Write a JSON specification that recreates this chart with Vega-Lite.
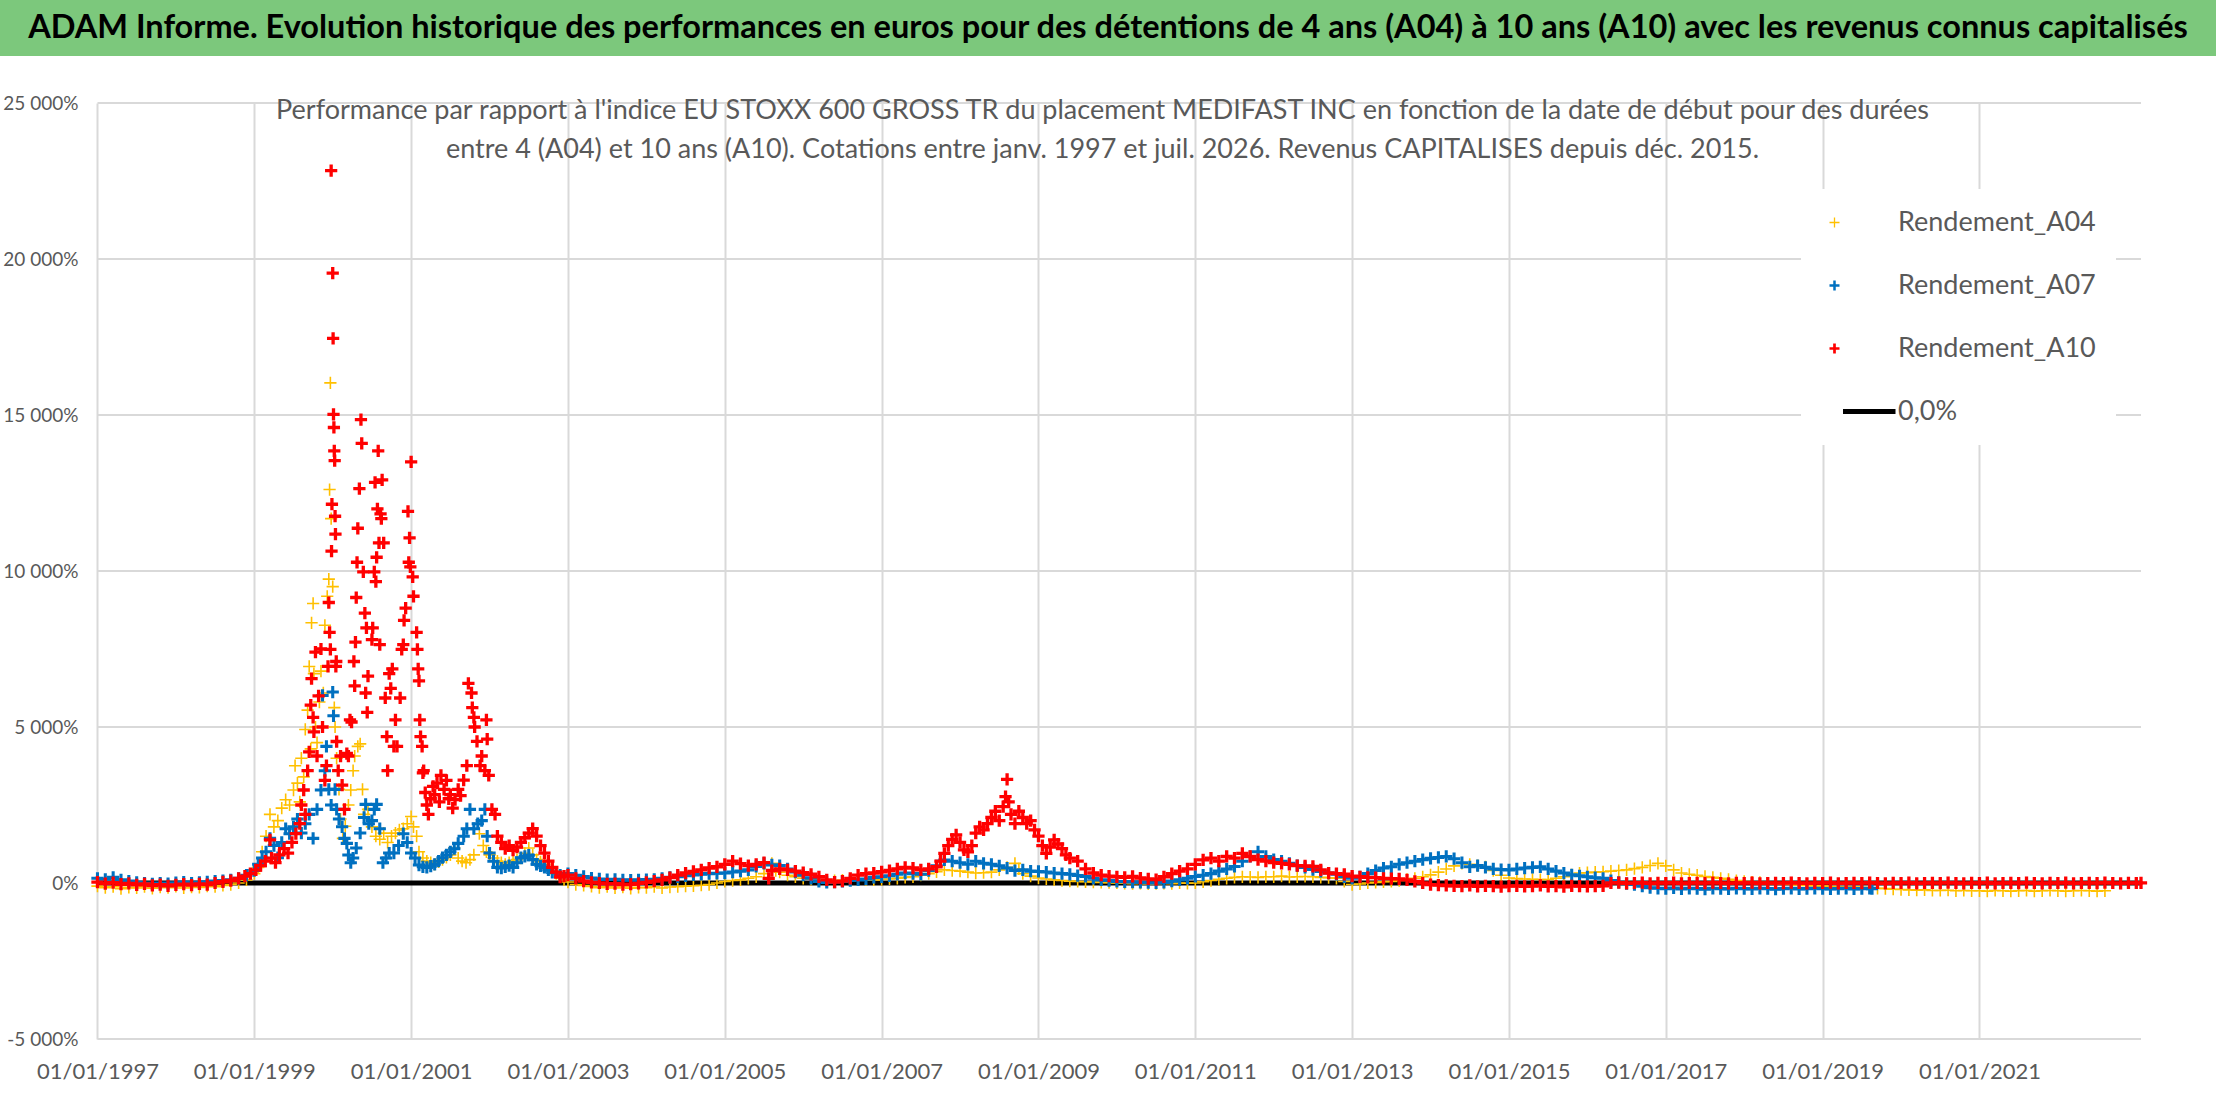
{
  "$schema": "https://vega.github.io/schema/vega-lite/v6.json",
  "padding": 0,
  "background": "white",
  "config": {
    "font": "Lato",
    "view": {"stroke": null}
  },
  "datasets": {
    "grid": [
      {"g": -5000, "x1": 1997, "x2": 2023.06}, {"g": 0, "x1": 1997, "x2": 2023.06}, {"g": 5000, "x1": 1997, "x2": 2023.06},
      {"g": 10000, "x1": 1997, "x2": 2023.06}, {"g": 15000, "x1": 1997, "x2": 2023.06}, {"g": 20000, "x1": 1997, "x2": 2023.06},
      {"g": 25000, "x1": 1997, "x2": 2023.06}
    ],
    "zero": [{"t": 1997, "v": 0}, {"t": 2023.06, "v": 0}],
    "a04": [
      {"t":1997,"v":-100},{"t":1997.1,"v":-150},{"t":1997.2,"v":-120},{"t":1997.3,"v":-180},{"t":1997.4,"v":-140},{"t":1997.5,"v":-160},{"t":1997.6,"v":-120},{"t":1997.7,"v":-170},{"t":1997.8,"v":-130},{"t":1997.9,"v":-150},{"t":1998,"v":-110},{"t":1998.1,"v":-160},{"t":1998.2,"v":-130},{"t":1998.3,"v":-140},{"t":1998.4,"v":-100},{"t":1998.5,"v":-120},{"t":1998.6,"v":-80},{"t":1998.7,"v":-50},{"t":1998.8,"v":0},{"t":1998.9,"v":100},
      {"t":1999,"v":300},{"t":1999.05,"v":500},{"t":1999.1,"v":1000},{"t":1999.15,"v":1500},{"t":1999.2,"v":2200},{"t":1999.25,"v":1800},{"t":1999.3,"v":2000},{"t":1999.35,"v":2400},{"t":1999.4,"v":2670},{"t":1999.45,"v":2500},{"t":1999.5,"v":2980},{"t":1999.52,"v":3760},{"t":1999.55,"v":3200},{"t":1999.58,"v":2600},{"t":1999.6,"v":4000},{"t":1999.63,"v":3400},{"t":1999.65,"v":4920},{"t":1999.68,"v":5540},{"t":1999.7,"v":6940},{"t":1999.72,"v":4300},{"t":1999.73,"v":8340},{"t":1999.75,"v":8960},{"t":1999.76,"v":6710},{"t":1999.78,"v":5000},{"t":1999.8,"v":4500},{"t":1999.83,"v":5800},{"t":1999.85,"v":6790},{"t":1999.88,"v":6090},{"t":1999.9,"v":8260},{"t":1999.93,"v":9190},{"t":1999.95,"v":9740},{"t":1999.96,"v":12610},{"t":1999.97,"v":16030},{"t":1999.98,"v":11680},
      {"t":2000,"v":9500},{"t":2000.02,"v":5620},{"t":2000.03,"v":5000},{"t":2000.05,"v":4000},{"t":2000.08,"v":3000},{"t":2000.1,"v":2050},{"t":2000.13,"v":1430},{"t":2000.16,"v":1820},{"t":2000.2,"v":2500},{"t":2000.23,"v":2980},{"t":2000.26,"v":3600},{"t":2000.28,"v":4070},{"t":2000.32,"v":4380},{"t":2000.35,"v":4460},{"t":2000.38,"v":3000},{"t":2000.4,"v":2200},{"t":2000.45,"v":2360},{"t":2000.5,"v":1800},{"t":2000.55,"v":1500},{"t":2000.6,"v":1400},{"t":2000.65,"v":1600},{"t":2000.7,"v":1300},{"t":2000.75,"v":1500},{"t":2000.8,"v":1600},{"t":2000.85,"v":1700},{"t":2000.9,"v":1740},{"t":2000.95,"v":1900},
      {"t":2001,"v":2130},{"t":2001.03,"v":1800},{"t":2001.07,"v":1500},{"t":2001.1,"v":1000},{"t":2001.15,"v":800},{"t":2001.2,"v":700},{"t":2001.25,"v":650},{"t":2001.3,"v":600},{"t":2001.35,"v":680},{"t":2001.4,"v":750},{"t":2001.45,"v":820},{"t":2001.5,"v":900},{"t":2001.55,"v":1120},{"t":2001.6,"v":800},{"t":2001.65,"v":700},{"t":2001.7,"v":650},{"t":2001.75,"v":750},{"t":2001.8,"v":900},{"t":2001.87,"v":1580},{"t":2001.92,"v":1200},{"t":2001.96,"v":1000},
      {"t":2002,"v":900},{"t":2002.05,"v":800},{"t":2002.1,"v":700},{"t":2002.15,"v":650},{"t":2002.2,"v":600},{"t":2002.25,"v":650},{"t":2002.3,"v":700},{"t":2002.35,"v":750},{"t":2002.4,"v":800},{"t":2002.45,"v":950},{"t":2002.5,"v":1120},{"t":2002.55,"v":900},{"t":2002.6,"v":750},{"t":2002.65,"v":680},{"t":2002.7,"v":600},{"t":2002.75,"v":500},{"t":2002.8,"v":400},{"t":2002.85,"v":300},{"t":2002.9,"v":200},{"t":2002.95,"v":100},
      {"t":2003,"v":30},{"t":2003.1,"v":-50},{"t":2003.2,"v":-80},{"t":2003.3,"v":-110},{"t":2003.4,"v":-150},{"t":2003.5,"v":-120},{"t":2003.6,"v":-160},{"t":2003.7,"v":-130},{"t":2003.8,"v":-170},{"t":2003.9,"v":-140},{"t":2004,"v":-150},{"t":2004.1,"v":-120},{"t":2004.2,"v":-160},{"t":2004.3,"v":-130},{"t":2004.4,"v":-120},{"t":2004.5,"v":-100},{"t":2004.6,"v":-90},{"t":2004.7,"v":-70},{"t":2004.8,"v":-50},{"t":2004.9,"v":0},
      {"t":2005,"v":50},{"t":2005.1,"v":80},{"t":2005.2,"v":100},{"t":2005.3,"v":150},{"t":2005.4,"v":200},{"t":2005.5,"v":300},{"t":2005.6,"v":630},{"t":2005.65,"v":400},{"t":2005.7,"v":350},{"t":2005.8,"v":250},{"t":2005.9,"v":200},{"t":2006,"v":150},{"t":2006.1,"v":120},{"t":2006.2,"v":100},{"t":2006.3,"v":90},{"t":2006.4,"v":80},{"t":2006.5,"v":90},{"t":2006.6,"v":100},{"t":2006.7,"v":110},{"t":2006.8,"v":110},{"t":2006.9,"v":100},
      {"t":2007,"v":110},{"t":2007.1,"v":130},{"t":2007.2,"v":150},{"t":2007.3,"v":180},{"t":2007.4,"v":200},{"t":2007.5,"v":250},{"t":2007.6,"v":300},{"t":2007.7,"v":360},{"t":2007.8,"v":420},{"t":2007.9,"v":400},{"t":2008,"v":380},{"t":2008.1,"v":350},{"t":2008.2,"v":320},{"t":2008.3,"v":330},{"t":2008.4,"v":350},{"t":2008.5,"v":420},{"t":2008.6,"v":500},{"t":2008.7,"v":630},{"t":2008.75,"v":450},{"t":2008.8,"v":300},{"t":2008.9,"v":220},
      {"t":2009,"v":160},{"t":2009.1,"v":130},{"t":2009.2,"v":100},{"t":2009.3,"v":80},{"t":2009.4,"v":60},{"t":2009.5,"v":50},{"t":2009.6,"v":40},{"t":2009.7,"v":30},{"t":2009.8,"v":20},{"t":2009.9,"v":10},{"t":2010,"v":0},{"t":2010.1,"v":-10},{"t":2010.2,"v":-20},{"t":2010.3,"v":-10},{"t":2010.4,"v":-30},{"t":2010.5,"v":-20},{"t":2010.6,"v":-10},{"t":2010.7,"v":-20},{"t":2010.8,"v":0},{"t":2010.9,"v":-10},
      {"t":2011,"v":0},{"t":2011.1,"v":40},{"t":2011.2,"v":80},{"t":2011.3,"v":120},{"t":2011.4,"v":150},{"t":2011.5,"v":180},{"t":2011.6,"v":200},{"t":2011.7,"v":190},{"t":2011.8,"v":180},{"t":2011.9,"v":200},{"t":2012,"v":200},{"t":2012.1,"v":220},{"t":2012.2,"v":190},{"t":2012.3,"v":200},{"t":2012.4,"v":210},{"t":2012.5,"v":200},{"t":2012.6,"v":180},{"t":2012.7,"v":170},{"t":2012.8,"v":150},{"t":2012.9,"v":50},
      {"t":2013,"v":-50},{"t":2013.1,"v":-30},{"t":2013.2,"v":0},{"t":2013.3,"v":20},{"t":2013.4,"v":40},{"t":2013.5,"v":50},{"t":2013.6,"v":80},{"t":2013.7,"v":120},{"t":2013.8,"v":150},{"t":2013.9,"v":200},{"t":2014,"v":260},{"t":2014.1,"v":350},{"t":2014.2,"v":450},{"t":2014.3,"v":550},{"t":2014.4,"v":630},{"t":2014.5,"v":600},{"t":2014.6,"v":560},{"t":2014.7,"v":520},{"t":2014.8,"v":400},{"t":2014.9,"v":250},
      {"t":2015,"v":160},{"t":2015.1,"v":140},{"t":2015.2,"v":130},{"t":2015.3,"v":120},{"t":2015.4,"v":110},{"t":2015.5,"v":110},{"t":2015.6,"v":150},{"t":2015.7,"v":200},{"t":2015.8,"v":260},{"t":2015.9,"v":320},{"t":2016,"v":330},{"t":2016.1,"v":350},{"t":2016.2,"v":360},{"t":2016.3,"v":380},{"t":2016.4,"v":400},{"t":2016.5,"v":420},{"t":2016.6,"v":460},{"t":2016.7,"v":500},{"t":2016.8,"v":560},{"t":2016.9,"v":630},
      {"t":2017,"v":550},{"t":2017.1,"v":420},{"t":2017.2,"v":320},{"t":2017.3,"v":280},{"t":2017.4,"v":250},{"t":2017.5,"v":210},{"t":2017.6,"v":180},{"t":2017.7,"v":150},{"t":2017.8,"v":120},{"t":2017.9,"v":80},{"t":2018,"v":50},{"t":2018.1,"v":30},{"t":2018.2,"v":20},{"t":2018.3,"v":0},{"t":2018.4,"v":-20},{"t":2018.5,"v":-30},{"t":2018.6,"v":-50},{"t":2018.7,"v":-60},{"t":2018.8,"v":-80},{"t":2018.9,"v":-90},
      {"t":2019,"v":-100},{"t":2019.1,"v":-110},{"t":2019.2,"v":-120},{"t":2019.3,"v":-120},{"t":2019.4,"v":-130},{"t":2019.5,"v":-140},{"t":2019.6,"v":-150},{"t":2019.7,"v":-170},{"t":2019.8,"v":-180},{"t":2019.9,"v":-200},{"t":2020,"v":-210},{"t":2020.1,"v":-220},{"t":2020.2,"v":-230},{"t":2020.3,"v":-220},{"t":2020.4,"v":-240},{"t":2020.5,"v":-240},{"t":2020.6,"v":-230},{"t":2020.7,"v":-250},{"t":2020.8,"v":-240},{"t":2020.9,"v":-250},
      {"t":2021,"v":-250},{"t":2021.1,"v":-260},{"t":2021.2,"v":-240},{"t":2021.3,"v":-250},{"t":2021.4,"v":-260},{"t":2021.5,"v":-250},{"t":2021.6,"v":-240},{"t":2021.7,"v":-260},{"t":2021.8,"v":-250},{"t":2021.9,"v":-240},{"t":2022,"v":-250},{"t":2022.1,"v":-260},{"t":2022.2,"v":-250},{"t":2022.3,"v":-240},{"t":2022.4,"v":-250},{"t":2022.5,"v":-260},{"t":2022.6,"v":-250}
    ],
    "a07": [
      {"t":1997,"v":150},{"t":1997.1,"v":120},{"t":1997.2,"v":180},{"t":1997.3,"v":100},{"t":1997.4,"v":60},{"t":1997.5,"v":20},{"t":1997.6,"v":0},{"t":1997.7,"v":-30},{"t":1997.8,"v":0},{"t":1997.9,"v":-20},{"t":1998,"v":10},{"t":1998.1,"v":30},{"t":1998.2,"v":0},{"t":1998.3,"v":20},{"t":1998.4,"v":40},{"t":1998.5,"v":60},{"t":1998.6,"v":80},{"t":1998.7,"v":100},{"t":1998.8,"v":150},{"t":1998.9,"v":250},
      {"t":1999,"v":400},{"t":1999.05,"v":600},{"t":1999.1,"v":800},{"t":1999.15,"v":1000},{"t":1999.2,"v":1430},{"t":1999.25,"v":1200},{"t":1999.3,"v":810},{"t":1999.35,"v":1300},{"t":1999.4,"v":1740},{"t":1999.45,"v":1580},{"t":1999.5,"v":1800},{"t":1999.55,"v":2050},{"t":1999.6,"v":1600},{"t":1999.65,"v":1900},{"t":1999.7,"v":2200},{"t":1999.75,"v":1430},{"t":1999.8,"v":2360},{"t":1999.85,"v":2980},{"t":1999.87,"v":6010},{"t":1999.9,"v":3600},{"t":1999.92,"v":4380},{"t":1999.95,"v":3000},{"t":1999.98,"v":2500},
      {"t":2000,"v":6120},{"t":2000.01,"v":5360},{"t":2000.03,"v":3000},{"t":2000.05,"v":2360},{"t":2000.08,"v":2050},{"t":2000.12,"v":1800},{"t":2000.15,"v":1430},{"t":2000.18,"v":1270},{"t":2000.2,"v":900},{"t":2000.23,"v":650},{"t":2000.26,"v":800},{"t":2000.3,"v":1120},{"t":2000.35,"v":1600},{"t":2000.4,"v":2100},{"t":2000.42,"v":2520},{"t":2000.46,"v":1900},{"t":2000.5,"v":2000},{"t":2000.53,"v":2360},{"t":2000.56,"v":2520},{"t":2000.6,"v":1740},{"t":2000.64,"v":650},{"t":2000.68,"v":800},{"t":2000.72,"v":960},{"t":2000.78,"v":960},{"t":2000.84,"v":1200},{"t":2000.9,"v":1580},{"t":2000.95,"v":1300},
      {"t":2001,"v":960},{"t":2001.05,"v":800},{"t":2001.1,"v":575},{"t":2001.15,"v":520},{"t":2001.2,"v":500},{"t":2001.25,"v":540},{"t":2001.3,"v":600},{"t":2001.35,"v":700},{"t":2001.4,"v":810},{"t":2001.45,"v":900},{"t":2001.5,"v":1000},{"t":2001.55,"v":1100},{"t":2001.6,"v":1270},{"t":2001.67,"v":1500},{"t":2001.71,"v":1740},{"t":2001.75,"v":2360},{"t":2001.8,"v":1740},{"t":2001.85,"v":1900},{"t":2001.9,"v":2000},{"t":2001.94,"v":2360},{"t":2001.97,"v":1500},
      {"t":2002,"v":960},{"t":2002.05,"v":700},{"t":2002.1,"v":500},{"t":2002.15,"v":480},{"t":2002.2,"v":520},{"t":2002.25,"v":560},{"t":2002.3,"v":500},{"t":2002.35,"v":650},{"t":2002.4,"v":810},{"t":2002.45,"v":850},{"t":2002.5,"v":890},{"t":2002.55,"v":750},{"t":2002.6,"v":600},{"t":2002.65,"v":550},{"t":2002.7,"v":500},{"t":2002.75,"v":420},{"t":2002.8,"v":340},{"t":2002.9,"v":250},
      {"t":2003,"v":300},{"t":2003.1,"v":250},{"t":2003.2,"v":210},{"t":2003.3,"v":160},{"t":2003.4,"v":130},{"t":2003.5,"v":110},{"t":2003.6,"v":120},{"t":2003.7,"v":100},{"t":2003.8,"v":90},{"t":2003.9,"v":100},{"t":2004,"v":110},{"t":2004.1,"v":120},{"t":2004.2,"v":150},{"t":2004.3,"v":180},{"t":2004.4,"v":200},{"t":2004.5,"v":230},{"t":2004.6,"v":260},{"t":2004.7,"v":280},{"t":2004.8,"v":300},{"t":2004.9,"v":310},
      {"t":2005,"v":320},{"t":2005.1,"v":350},{"t":2005.2,"v":380},{"t":2005.3,"v":420},{"t":2005.4,"v":530},{"t":2005.5,"v":630},{"t":2005.6,"v":580},{"t":2005.7,"v":560},{"t":2005.8,"v":450},{"t":2005.9,"v":350},{"t":2006,"v":250},{"t":2006.1,"v":150},{"t":2006.2,"v":50},{"t":2006.3,"v":20},{"t":2006.4,"v":30},{"t":2006.5,"v":50},{"t":2006.6,"v":80},{"t":2006.7,"v":100},{"t":2006.8,"v":130},{"t":2006.9,"v":180},
      {"t":2007,"v":200},{"t":2007.1,"v":230},{"t":2007.2,"v":280},{"t":2007.3,"v":320},{"t":2007.4,"v":300},{"t":2007.5,"v":280},{"t":2007.6,"v":400},{"t":2007.7,"v":550},{"t":2007.8,"v":740},{"t":2007.9,"v":700},{"t":2008,"v":650},{"t":2008.1,"v":600},{"t":2008.2,"v":700},{"t":2008.3,"v":630},{"t":2008.4,"v":600},{"t":2008.5,"v":550},{"t":2008.6,"v":480},{"t":2008.7,"v":400},{"t":2008.8,"v":420},{"t":2008.9,"v":380},
      {"t":2009,"v":370},{"t":2009.1,"v":350},{"t":2009.2,"v":320},{"t":2009.3,"v":300},{"t":2009.4,"v":280},{"t":2009.5,"v":240},{"t":2009.6,"v":210},{"t":2009.7,"v":150},{"t":2009.8,"v":100},{"t":2009.9,"v":80},{"t":2010,"v":50},{"t":2010.1,"v":40},{"t":2010.2,"v":30},{"t":2010.3,"v":20},{"t":2010.4,"v":10},{"t":2010.5,"v":0},{"t":2010.6,"v":20},{"t":2010.7,"v":60},{"t":2010.8,"v":100},{"t":2010.9,"v":150},
      {"t":2011,"v":210},{"t":2011.1,"v":250},{"t":2011.2,"v":300},{"t":2011.3,"v":380},{"t":2011.4,"v":450},{"t":2011.5,"v":530},{"t":2011.6,"v":700},{"t":2011.7,"v":850},{"t":2011.8,"v":1000},{"t":2011.9,"v":850},{"t":2012,"v":750},{"t":2012.1,"v":700},{"t":2012.2,"v":630},{"t":2012.3,"v":560},{"t":2012.4,"v":500},{"t":2012.5,"v":430},{"t":2012.6,"v":370},{"t":2012.7,"v":320},{"t":2012.8,"v":280},{"t":2012.9,"v":200},
      {"t":2013,"v":150},{"t":2013.1,"v":200},{"t":2013.2,"v":300},{"t":2013.3,"v":400},{"t":2013.4,"v":480},{"t":2013.5,"v":520},{"t":2013.6,"v":600},{"t":2013.7,"v":650},{"t":2013.8,"v":700},{"t":2013.9,"v":750},{"t":2014,"v":790},{"t":2014.1,"v":820},{"t":2014.2,"v":850},{"t":2014.3,"v":780},{"t":2014.4,"v":650},{"t":2014.5,"v":520},{"t":2014.6,"v":560},{"t":2014.7,"v":500},{"t":2014.8,"v":450},{"t":2014.9,"v":430},
      {"t":2015,"v":420},{"t":2015.1,"v":450},{"t":2015.2,"v":480},{"t":2015.3,"v":500},{"t":2015.4,"v":520},{"t":2015.5,"v":450},{"t":2015.6,"v":380},{"t":2015.7,"v":320},{"t":2015.8,"v":260},{"t":2015.9,"v":230},{"t":2016,"v":200},{"t":2016.1,"v":170},{"t":2016.2,"v":150},{"t":2016.3,"v":80},{"t":2016.4,"v":20},{"t":2016.5,"v":-20},{"t":2016.6,"v":-50},{"t":2016.7,"v":-100},{"t":2016.8,"v":-150},{"t":2016.9,"v":-170},
      {"t":2017,"v":-180},{"t":2017.1,"v":-160},{"t":2017.2,"v":-190},{"t":2017.3,"v":-170},{"t":2017.4,"v":-180},{"t":2017.5,"v":-200},{"t":2017.6,"v":-170},{"t":2017.7,"v":-180},{"t":2017.8,"v":-190},{"t":2017.9,"v":-170},{"t":2018,"v":-180},{"t":2018.1,"v":-190},{"t":2018.2,"v":-170},{"t":2018.3,"v":-180},{"t":2018.4,"v":-200},{"t":2018.5,"v":-180},{"t":2018.6,"v":-170},{"t":2018.7,"v":-190},{"t":2018.8,"v":-180},{"t":2018.9,"v":-170},
      {"t":2019,"v":-180},{"t":2019.1,"v":-190},{"t":2019.2,"v":-180},{"t":2019.3,"v":-170},{"t":2019.4,"v":-190},{"t":2019.5,"v":-180},{"t":2019.6,"v":-170},{"t":2019.63,"v":-180}
    ],
    "a10": [
      {"t":1997,"v":30},{"t":1997.1,"v":-20},{"t":1997.2,"v":10},{"t":1997.3,"v":-40},{"t":1997.4,"v":-10},{"t":1997.5,"v":-60},{"t":1997.6,"v":-30},{"t":1997.7,"v":-80},{"t":1997.8,"v":-50},{"t":1997.9,"v":-90},{"t":1998,"v":-60},{"t":1998.1,"v":-40},{"t":1998.2,"v":-70},{"t":1998.3,"v":-30},{"t":1998.4,"v":-50},{"t":1998.5,"v":0},{"t":1998.6,"v":40},{"t":1998.7,"v":80},{"t":1998.8,"v":150},{"t":1998.88,"v":220},{"t":1998.95,"v":300},
      {"t":1999.02,"v":420},{"t":1999.08,"v":560},{"t":1999.14,"v":700},{"t":1999.2,"v":1380},{"t":1999.22,"v":800},{"t":1999.27,"v":650},{"t":1999.32,"v":900},{"t":1999.38,"v":1100},{"t":1999.43,"v":960},{"t":1999.48,"v":1300},{"t":1999.53,"v":1580},{"t":1999.58,"v":1900},{"t":1999.6,"v":2500},{"t":1999.63,"v":2980},{"t":1999.65,"v":2200},{"t":1999.68,"v":3600},{"t":1999.7,"v":4200},{"t":1999.72,"v":5700},{"t":1999.73,"v":6550},{"t":1999.75,"v":5310},{"t":1999.76,"v":4845},{"t":1999.78,"v":7400},{"t":1999.8,"v":4070},{"t":1999.82,"v":6000},{"t":1999.85,"v":7500},{"t":1999.87,"v":5000},{"t":1999.9,"v":3290},{"t":1999.92,"v":3760},{"t":1999.94,"v":6940},{"t":1999.95,"v":8990},{"t":1999.96,"v":8030},{"t":1999.97,"v":7485},{"t":1999.98,"v":22830},{"t":1999.985,"v":10640},{"t":1999.99,"v":12140},
      {"t":2000,"v":19550},{"t":2000.005,"v":17455},{"t":2000.01,"v":15018},{"t":2000.015,"v":14600},{"t":2000.02,"v":13850},{"t":2000.025,"v":13540},{"t":2000.03,"v":11755},{"t":2000.035,"v":11180},{"t":2000.04,"v":6940},{"t":2000.045,"v":7100},{"t":2000.05,"v":4535},{"t":2000.07,"v":3600},{"t":2000.1,"v":4070},{"t":2000.12,"v":3140},{"t":2000.15,"v":2360},{"t":2000.18,"v":4150},{"t":2000.2,"v":4070},{"t":2000.22,"v":5230},{"t":2000.24,"v":5160},{"t":2000.27,"v":7100},{"t":2000.28,"v":6320},{"t":2000.29,"v":7720},{"t":2000.3,"v":9150},{"t":2000.31,"v":10280},{"t":2000.32,"v":11370},{"t":2000.34,"v":12640},{"t":2000.36,"v":14850},{"t":2000.37,"v":14090},{"t":2000.39,"v":9970},{"t":2000.41,"v":8650},{"t":2000.42,"v":6090},{"t":2000.43,"v":8180},{"t":2000.44,"v":5470},{"t":2000.45,"v":6630},{"t":2000.5,"v":7800},{"t":2000.51,"v":8180},{"t":2000.53,"v":9970},{"t":2000.54,"v":12840},{"t":2000.55,"v":9660},{"t":2000.56,"v":10440},{"t":2000.57,"v":11990},{"t":2000.58,"v":13850},{"t":2000.59,"v":10900},{"t":2000.6,"v":7640},{"t":2000.61,"v":11830},{"t":2000.62,"v":11680},{"t":2000.63,"v":12920},{"t":2000.65,"v":10900},{"t":2000.67,"v":5930},{"t":2000.69,"v":4690},{"t":2000.7,"v":3600},{"t":2000.72,"v":6710},{"t":2000.74,"v":6240},{"t":2000.76,"v":6860},{"t":2000.78,"v":4380},{"t":2000.8,"v":5230},{"t":2000.82,"v":4380},{"t":2000.86,"v":5930},{"t":2000.88,"v":7490},{"t":2000.9,"v":7640},{"t":2000.91,"v":8420},{"t":2000.93,"v":8810},{"t":2000.96,"v":11910},{"t":2000.97,"v":10280},{"t":2000.98,"v":11060},{"t":2000.99,"v":10130},
      {"t":2001,"v":13500},{"t":2001.02,"v":9810},{"t":2001.03,"v":9190},{"t":2001.07,"v":8030},{"t":2001.08,"v":7490},{"t":2001.09,"v":6860},{"t":2001.1,"v":6480},{"t":2001.11,"v":5230},{"t":2001.12,"v":4690},{"t":2001.14,"v":4380},{"t":2001.15,"v":3530},{"t":2001.16,"v":3600},{"t":2001.18,"v":2900},{"t":2001.2,"v":2500},{"t":2001.22,"v":2200},{"t":2001.25,"v":2700},{"t":2001.28,"v":3100},{"t":2001.3,"v":2830},{"t":2001.33,"v":3200},{"t":2001.36,"v":2600},{"t":2001.38,"v":3450},{"t":2001.42,"v":3000},{"t":2001.45,"v":3290},{"t":2001.48,"v":2700},{"t":2001.5,"v":2830},{"t":2001.53,"v":2400},{"t":2001.56,"v":2670},{"t":2001.6,"v":3000},{"t":2001.63,"v":2800},{"t":2001.67,"v":3300},{"t":2001.71,"v":3760},{"t":2001.73,"v":6400},{"t":2001.77,"v":6090},{"t":2001.78,"v":5620},{"t":2001.8,"v":5310},{"t":2001.81,"v":5000},{"t":2001.84,"v":4540},{"t":2001.88,"v":3760},{"t":2001.9,"v":4070},{"t":2001.94,"v":3600},{"t":2001.96,"v":5230},{"t":2001.97,"v":4610},{"t":2001.99,"v":3450},
      {"t":2002.03,"v":2360},{"t":2002.07,"v":2200},{"t":2002.1,"v":1500},{"t":2002.15,"v":1300},{"t":2002.2,"v":1100},{"t":2002.25,"v":1200},{"t":2002.3,"v":1050},{"t":2002.35,"v":1150},{"t":2002.4,"v":1300},{"t":2002.45,"v":1450},{"t":2002.5,"v":1600},{"t":2002.55,"v":1740},{"t":2002.6,"v":1500},{"t":2002.65,"v":1200},{"t":2002.7,"v":960},{"t":2002.75,"v":700},{"t":2002.8,"v":500},{"t":2002.85,"v":350},{"t":2002.9,"v":190},{"t":2002.95,"v":220},
      {"t":2003,"v":250},{"t":2003.1,"v":150},{"t":2003.2,"v":60},{"t":2003.3,"v":20},{"t":2003.4,"v":0},{"t":2003.5,"v":-30},{"t":2003.6,"v":-20},{"t":2003.7,"v":-50},{"t":2003.8,"v":-40},{"t":2003.9,"v":-10},{"t":2004,"v":20},{"t":2004.1,"v":60},{"t":2004.2,"v":100},{"t":2004.3,"v":170},{"t":2004.4,"v":250},{"t":2004.5,"v":320},{"t":2004.6,"v":370},{"t":2004.7,"v":420},{"t":2004.8,"v":480},{"t":2004.9,"v":520},
      {"t":2005,"v":600},{"t":2005.1,"v":700},{"t":2005.2,"v":620},{"t":2005.3,"v":560},{"t":2005.4,"v":600},{"t":2005.5,"v":650},{"t":2005.56,"v":150},{"t":2005.6,"v":400},{"t":2005.7,"v":450},{"t":2005.8,"v":420},{"t":2005.9,"v":380},{"t":2006,"v":330},{"t":2006.1,"v":280},{"t":2006.2,"v":200},{"t":2006.3,"v":100},{"t":2006.4,"v":30},{"t":2006.5,"v":60},{"t":2006.6,"v":150},{"t":2006.7,"v":250},{"t":2006.8,"v":300},{"t":2006.9,"v":320},
      {"t":2007,"v":360},{"t":2007.1,"v":400},{"t":2007.2,"v":450},{"t":2007.3,"v":500},{"t":2007.4,"v":480},{"t":2007.5,"v":420},{"t":2007.6,"v":450},{"t":2007.7,"v":520},{"t":2007.75,"v":700},{"t":2007.8,"v":950},{"t":2007.85,"v":1200},{"t":2007.9,"v":1400},{"t":2007.95,"v":1540},{"t":2008,"v":1300},{"t":2008.05,"v":1060},{"t":2008.1,"v":1000},{"t":2008.15,"v":1200},{"t":2008.2,"v":1600},{"t":2008.25,"v":1800},{"t":2008.3,"v":1700},{"t":2008.35,"v":1900},{"t":2008.4,"v":2100},{"t":2008.45,"v":2300},{"t":2008.5,"v":2000},{"t":2008.55,"v":2450},{"t":2008.58,"v":2766},{"t":2008.6,"v":3323},{"t":2008.62,"v":2600},{"t":2008.65,"v":2200},{"t":2008.7,"v":1900},{"t":2008.75,"v":2300},{"t":2008.8,"v":2100},{"t":2008.85,"v":1900},{"t":2008.9,"v":2000},{"t":2008.95,"v":1700},
      {"t":2009,"v":1500},{"t":2009.05,"v":1200},{"t":2009.1,"v":950},{"t":2009.15,"v":1150},{"t":2009.2,"v":1380},{"t":2009.25,"v":1250},{"t":2009.3,"v":1100},{"t":2009.35,"v":900},{"t":2009.4,"v":800},{"t":2009.5,"v":700},{"t":2009.6,"v":450},{"t":2009.7,"v":320},{"t":2009.8,"v":250},{"t":2009.9,"v":220},{"t":2010,"v":200},{"t":2010.1,"v":180},{"t":2010.2,"v":210},{"t":2010.3,"v":160},{"t":2010.4,"v":130},{"t":2010.5,"v":110},{"t":2010.6,"v":200},{"t":2010.7,"v":300},{"t":2010.8,"v":380},{"t":2010.9,"v":450},
      {"t":2011,"v":600},{"t":2011.1,"v":740},{"t":2011.2,"v":800},{"t":2011.3,"v":700},{"t":2011.4,"v":850},{"t":2011.5,"v":800},{"t":2011.6,"v":950},{"t":2011.7,"v":850},{"t":2011.8,"v":750},{"t":2011.9,"v":700},{"t":2012,"v":650},{"t":2012.1,"v":630},{"t":2012.2,"v":600},{"t":2012.3,"v":560},{"t":2012.4,"v":550},{"t":2012.5,"v":530},{"t":2012.6,"v":420},{"t":2012.7,"v":320},{"t":2012.8,"v":300},{"t":2012.9,"v":280},
      {"t":2013,"v":220},{"t":2013.1,"v":200},{"t":2013.2,"v":180},{"t":2013.3,"v":170},{"t":2013.4,"v":150},{"t":2013.5,"v":140},{"t":2013.6,"v":130},{"t":2013.7,"v":100},{"t":2013.8,"v":50},{"t":2013.9,"v":0},{"t":2014,"v":-50},{"t":2014.1,"v":-70},{"t":2014.2,"v":-80},{"t":2014.3,"v":-90},{"t":2014.4,"v":-100},{"t":2014.5,"v":-80},{"t":2014.6,"v":-110},{"t":2014.7,"v":-90},{"t":2014.8,"v":-100},{"t":2014.9,"v":-120},
      {"t":2015,"v":-100},{"t":2015.1,"v":-90},{"t":2015.2,"v":-110},{"t":2015.3,"v":-100},{"t":2015.4,"v":-80},{"t":2015.5,"v":-110},{"t":2015.6,"v":-100},{"t":2015.7,"v":-120},{"t":2015.8,"v":-90},{"t":2015.9,"v":-100},{"t":2016,"v":-110},{"t":2016.1,"v":-100},{"t":2016.2,"v":-90},{"t":2016.3,"v":0},{"t":2016.4,"v":10},{"t":2016.5,"v":-10},{"t":2016.6,"v":0},{"t":2016.7,"v":10},{"t":2016.8,"v":-10},{"t":2016.9,"v":5},
      {"t":2017,"v":0},{"t":2017.1,"v":10},{"t":2017.2,"v":-10},{"t":2017.3,"v":0},{"t":2017.4,"v":5},{"t":2017.5,"v":-5},{"t":2017.6,"v":10},{"t":2017.7,"v":0},{"t":2017.8,"v":-10},{"t":2017.9,"v":5},{"t":2018,"v":0},{"t":2018.1,"v":10},{"t":2018.2,"v":-10},{"t":2018.3,"v":0},{"t":2018.4,"v":5},{"t":2018.5,"v":-5},{"t":2018.6,"v":10},{"t":2018.7,"v":0},{"t":2018.8,"v":-10},{"t":2018.9,"v":5},
      {"t":2019,"v":0},{"t":2019.1,"v":10},{"t":2019.2,"v":-10},{"t":2019.3,"v":0},{"t":2019.4,"v":5},{"t":2019.5,"v":-5},{"t":2019.6,"v":10},{"t":2019.7,"v":0},{"t":2019.8,"v":-10},{"t":2019.9,"v":5},{"t":2020,"v":0},{"t":2020.1,"v":10},{"t":2020.2,"v":-10},{"t":2020.3,"v":0},{"t":2020.4,"v":5},{"t":2020.5,"v":-5},{"t":2020.6,"v":10},{"t":2020.7,"v":0},{"t":2020.8,"v":-10},{"t":2020.9,"v":5},
      {"t":2021,"v":0},{"t":2021.1,"v":10},{"t":2021.2,"v":-10},{"t":2021.3,"v":0},{"t":2021.4,"v":5},{"t":2021.5,"v":-5},{"t":2021.6,"v":10},{"t":2021.7,"v":0},{"t":2021.8,"v":-10},{"t":2021.9,"v":5},{"t":2022,"v":0},{"t":2022.1,"v":10},{"t":2022.2,"v":-10},{"t":2022.3,"v":0},{"t":2022.4,"v":5},{"t":2022.5,"v":-5},{"t":2022.6,"v":10},{"t":2022.7,"v":0},{"t":2022.8,"v":-10},{"t":2022.9,"v":5},{"t":2023,"v":0},{"t":2023.06,"v":5}
    ]
  },
  "concat": [
    {
      "width": 2216,
      "height": 56,
      "view": {"fill": "#7CC87C", "stroke": null},
      "data": {"values": [{"txt": "ADAM Informe. Evolution historique des performances en euros pour des détentions de 4 ans (A04) à 10 ans (A10) avec les revenus connus capitalisés"}]},
      "mark": {"type": "text", "fontSize": 32.5, "fontWeight": "bold", "color": "#000000", "align": "center", "baseline": "middle"},
      "encoding": {"text": {"field": "txt", "type": "nominal"}}
    },
    {
      "width": 2141,
      "height": 936,
      "title": {
        "text": [
          "Performance par rapport à l'indice EU STOXX 600 GROSS TR  du placement MEDIFAST INC en fonction de la date de début pour des durées",
          "entre 4 (A04) et 10 ans (A10). Cotations entre janv. 1997 et juil. 2026. Revenus CAPITALISES depuis déc. 2015."
        ],
        "anchor": "middle",
        "frame": "group",
        "offset": -63,
        "dx": 32,
        "dy": 7,
        "fontSize": 27,
        "fontWeight": "normal",
        "color": "#595959",
        "lineHeight": 39
      },
      "encoding": {
        "x": {
          "field": "t",
          "type": "quantitative",
          "scale": {"domain": [1995.757, 2023.06], "nice": false, "zero": false},
          "axis": {
            "title": null,
            "values": [1997, 1999, 2001, 2003, 2005, 2007, 2009, 2011, 2013, 2015, 2017, 2019, 2021],
            "labelExpr": "'01/01/' + datum.value",
            "labelOverlap": false,
            "labelFlush": false,
            "grid": true,
            "gridColor": "#D9D9D9",
            "gridWidth": 2,
            "ticks": false,
            "domain": false,
            "labelFontSize": 22,
            "labelColor": "#595959",
            "labelPadding": 22
          }
        },
        "y": {
          "field": "v",
          "type": "quantitative",
          "scale": {"domain": [-5000, 25000], "nice": false},
          "axis": {
            "title": null,
            "values": [-5000, 0, 5000, 10000, 15000, 20000, 25000],
            "labelExpr": "(datum.value < 0 ? '-' : '') + replace(format(abs(datum.value), ','), ',', ' ') + '%'",
            "grid": false,
            "ticks": false,
            "domain": false,
            "labelFontSize": 19,
            "labelColor": "#595959",
            "labelPadding": -78
          }
        }
      },
      "layer": [
        {
          "data": {"name": "grid"},
          "mark": {"type": "rule", "color": "#D9D9D9", "strokeWidth": 2},
          "encoding": {
            "x": {"field": "x1", "type": "quantitative"},
            "x2": {"field": "x2"},
            "y": {"field": "g", "type": "quantitative"}
          }
        },
        {
          "data": {"name": "zero"},
          "mark": {"type": "line", "color": "#000000", "strokeWidth": 5}
        },
        {
          "data": {"name": "a04"},
          "mark": {"type": "point", "filled": true, "opacity": 1, "size": 150, "strokeWidth": 0},
          "encoding": {
            "color": {
              "datum": "Rendement_A04",
              "scale": {
                "domain": ["Rendement_A04", "Rendement_A07", "Rendement_A10", "0,0%"],
                "range": ["#FFC000", "#0070C0", "#FF0000", "#000000"]
              },
              "legend": {
                "title": null,
                "orient": "none",
                "legendX": 1801,
                "legendY": 189,
                "fillColor": "#FFFFFF",
                "padding": 20,
                "labelFontSize": 27,
                "labelColor": "#595959",
                "labelOffset": 50,
                "labelLimit": 400,
                "symbolSize": 100,
                "symbolStrokeWidth": 0,
                "rowPadding": 35
              }
            },
            "shape": {
              "datum": "Rendement_A04",
              "scale": {
                "domain": ["Rendement_A04", "Rendement_A07", "Rendement_A10", "0,0%"],
                "range": [
                  "M-1,-0.13H-0.13V-1H0.13V-0.13H1V0.13H0.13V1H-0.13V0.13H-1Z",
                  "M-1,-0.25H-0.25V-1H0.25V-0.25H1V0.25H0.25V1H-0.25V0.25H-1Z",
                  "M-1,-0.27H-0.27V-1H0.27V-0.27H1V0.27H0.27V1H-0.27V0.27H-1Z",
                  "M1.7,-0.5H12.2V0.5H1.7Z"
                ]
              }
            }
          }
        },
        {
          "data": {"name": "a07"},
          "mark": {"type": "point", "filled": true, "opacity": 1, "size": 150, "strokeWidth": 0},
          "encoding": {
            "color": {"datum": "Rendement_A07"},
            "shape": {"datum": "Rendement_A07"}
          }
        },
        {
          "data": {"name": "a10"},
          "mark": {"type": "point", "filled": true, "opacity": 1, "size": 150, "strokeWidth": 0},
          "encoding": {
            "color": {"datum": "Rendement_A10"},
            "shape": {"datum": "Rendement_A10"}
          }
        }
      ]
    }
  ],
  "columns": 1,
  "bounds": "flush",
  "spacing": 47
}
